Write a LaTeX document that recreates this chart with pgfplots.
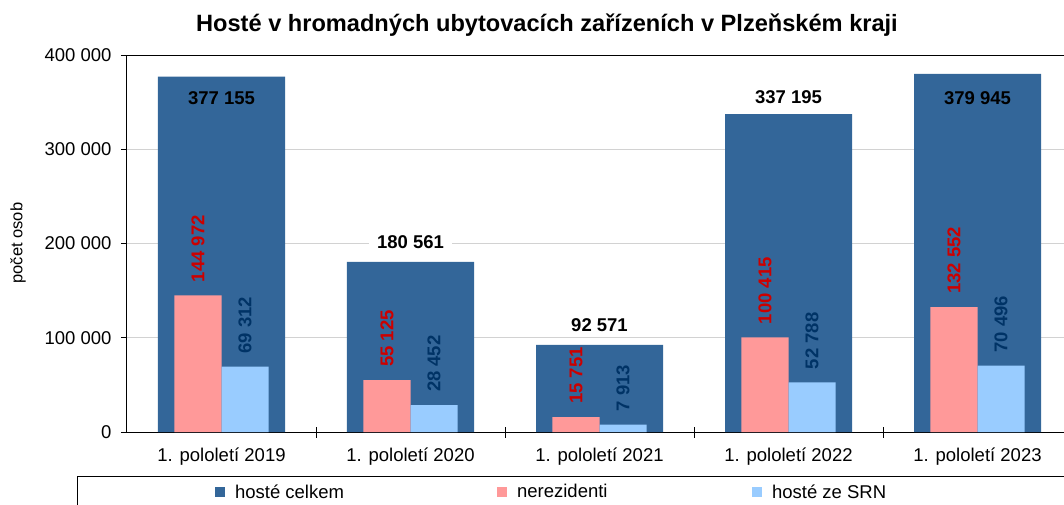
\documentclass[border=0pt]{standalone}
\usepackage{fontspec}
\setmainfont{Liberation Sans}
\usepackage{pgfplots}
\pgfplotsset{compat=1.18}
\definecolor{dkblue}{RGB}{51,102,153}
\definecolor{pinkbar}{RGB}{255,153,153}
\definecolor{ltblue}{RGB}{153,204,255}
\definecolor{redlab}{RGB}{204,0,0}
\definecolor{navylab}{RGB}{0,51,102}
\newcommand{\labfont}{\fontsize{18.5}{22}\selectfont\bfseries}
\begin{document}
\begin{tikzpicture}[font=\fontsize{18.5}{22}\selectfont]
\begin{axis}[
  at={(0pt,0pt)}, anchor=south west,
  scale only axis, width=945pt, height=377pt,
  xmin=-0.5, xmax=4.5, ymin=0, ymax=400000,
  axis line style={black, line width=1pt},
  tick pos=left, tick align=outside, major tick length=6pt,
  tick style={black, line width=0.8pt},
  xtick={0,1,2,3,4},
  xticklabels={1. pololetí 2019,1. pololetí 2020,1. pololetí 2021,1. pololetí 2022,1. pololetí 2023},
  xticklabel style={yshift=-6pt},
  xtick style={draw=none},
  extra x ticks={0.5,1.5,2.5,3.5},
  extra x tick labels={},
  extra x tick style={xtick style={draw=black}, tick align=center, major tick length=11pt, grid=none},
  ytick={0,100000,200000,300000,400000},
  scaled y ticks=false,
  /pgf/number format/assume math mode=true,
  yticklabel style={xshift=-6pt, /pgf/number format/.cd, fixed, 1000 sep={\ }},
  ymajorgrids, grid style={gray!35, line width=0.8pt},
  legend style={draw=none, fill=none, at={(axis description cs:0.093,-0.159)}, anchor=west, legend columns=3, inner sep=0pt},
  legend image code/.code={\fill[#1, draw=none] (0pt,-5pt) rectangle (10pt,5pt);},
  clip=false,
]
\addplot[ybar, bar width=0.672, bar shift=0, fill=dkblue, draw=none]
  coordinates {(0,377155) (1,180561) (2,92571) (3,337195) (4,379945)};
\addlegendentry{\makebox[268pt][l]{\hspace*{8pt}hosté celkem}}
\addplot[ybar, bar width=0.249, bar shift=0, fill=pinkbar, draw=none,
  nodes near coords, point meta=explicit symbolic,
  nodes near coords style={rotate=90, anchor=west, inner xsep=13pt, text=redlab, font=\labfont}]
  coordinates {(-0.1245,144972)[144 972] (0.8755,55125)[55 125] (1.8755,15751)[15 751] (2.8755,100415)[100 415] (3.8755,132552)[132 552]};
\addlegendentry{\makebox[241pt][l]{\hspace*{8pt}nerezidenti}}
\addplot[ybar, bar width=0.249, bar shift=0, fill=ltblue, draw=none,
  nodes near coords, point meta=explicit symbolic,
  nodes near coords style={rotate=90, anchor=west, inner xsep=13pt, text=navylab, font=\labfont}]
  coordinates {(0.1245,69312)[69 312] (1.1245,28452)[28 452] (2.1245,7913)[7 913] (3.1245,52788)[52 788] (4.1245,70496)[70 496]};
\addlegendentry{\hspace*{8pt}hosté ze SRN}
\addplot[draw=none, mark=none, forget plot, nodes near coords, point meta=explicit symbolic,
  nodes near coords style={anchor=center, font=\labfont, text=black, fill=white, inner xsep=8pt}]
  coordinates {(1,201600)[180 561] (2,113500)[92 571] (3,355400)[337 195]};
\addplot[draw=none, mark=none, forget plot, nodes near coords, point meta=explicit symbolic,
  nodes near coords style={anchor=center, font=\labfont, text=black}]
  coordinates {(0,354400)[377 155] (4,354400)[379 945]};
\end{axis}
\node[font=\fontsize{23.6}{28}\selectfont\bfseries] at (420pt,407pt) {Hosté v hromadných ubytovacích zařízeních v Plzeňském kraji};
\node[rotate=90, font=\fontsize{16.5}{20}\selectfont] at (-109pt,189pt) {počet osob};
\draw[black, line width=0.8pt] (-50pt,-44pt) rectangle (960pt,-110pt);
\pgfresetboundingbox
\path[use as bounding box] (-127pt,-72pt) rectangle (937pt,432pt);
\end{tikzpicture}
\end{document}
